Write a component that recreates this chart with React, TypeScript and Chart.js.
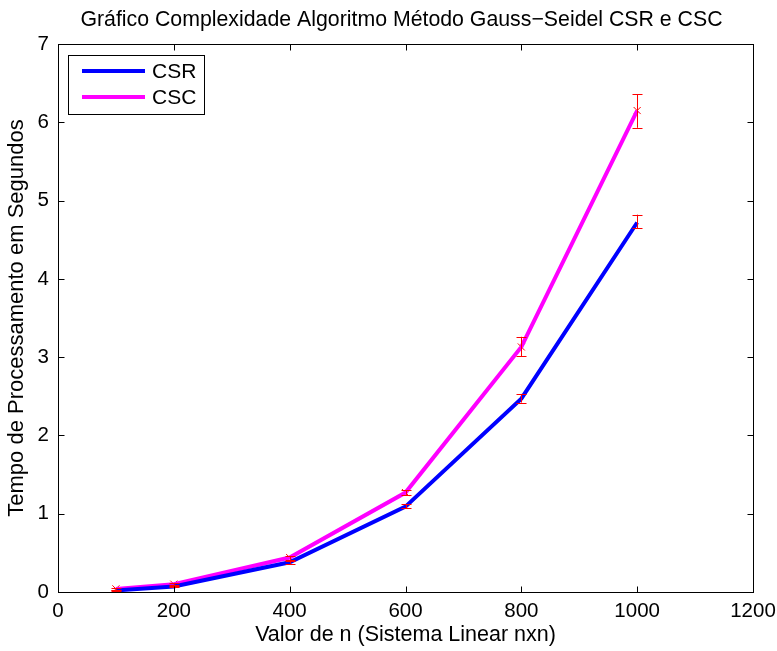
import React, { useEffect, useRef } from "react";
import { Chart, registerables } from "chart.js";

Chart.register(...registerables);

const nValues = [100, 200, 400, 600, 800, 1000];
const csrTimes = [0.02, 0.07, 0.38, 1.09, 2.47, 4.72];
const cscTimes = [0.04, 0.1, 0.44, 1.27, 3.13, 6.15];
const csrLow = [0.01, 0.06, 0.36, 1.07, 2.42, 4.65];
const csrHigh = [0.03, 0.08, 0.4, 1.12, 2.53, 4.82];
const cscLow = [0.03, 0.09, 0.41, 1.24, 3.01, 5.93];
const cscHigh = [0.05, 0.11, 0.46, 1.3, 3.26, 6.36];
const xTicks = [0, 200, 400, 600, 800, 1000, 1200];
const yTicks = [0, 1, 2, 3, 4, 5, 6, 7];

const TITLE = "Gráfico Complexidade Algoritmo Método Gauss\u2212Seidel CSR e CSC";
const FONT = "'Liberation Sans', Arial, Helvetica, sans-serif";

const boxPlugin = {
  id: "matlabBox",
  afterDatasetsDraw(chart: any) {
    const ctx = chart.ctx;
    const xs = chart.scales.x;
    const ys = chart.scales.y;
    ctx.save();
    ctx.strokeStyle = "#ff0000";
    ctx.lineWidth = 1;
    const cap = 5;
    const bars = [
      { lo: csrLow, hi: csrHigh },
      { lo: cscLow, hi: cscHigh },
    ];
    bars.forEach((b) => {
      nValues.forEach((n, i) => {
        const px = Math.round(xs.getPixelForValue(n)) + 0.5;
        const y1 = ys.getPixelForValue(b.lo[i]);
        const y2 = ys.getPixelForValue(b.hi[i]);
        ctx.beginPath();
        ctx.moveTo(px, y1);
        ctx.lineTo(px, y2);
        ctx.moveTo(px - cap, Math.round(y1) + 0.5);
        ctx.lineTo(px + cap, Math.round(y1) + 0.5);
        ctx.moveTo(px - cap, Math.round(y2) + 0.5);
        ctx.lineTo(px + cap, Math.round(y2) + 0.5);
        ctx.stroke();
      });
    });
    ctx.restore();
  },
  afterDraw(chart: any) {
    const ctx = chart.ctx;
    const a = chart.chartArea;
    const xs = chart.scales.x;
    const ys = chart.scales.y;
    ctx.save();
    ctx.strokeStyle = "#000";
    ctx.lineWidth = 1;
    const L = Math.round(a.left) + 0.5;
    const R = Math.round(a.right) + 0.5;
    const T = Math.round(a.top) + 0.5;
    const B = Math.round(a.bottom) + 0.5;
    ctx.strokeRect(L, T, R - L, B - T);
    const tl = 6;
    ctx.beginPath();
    xTicks.forEach((v) => {
      const px = Math.round(xs.getPixelForValue(v)) + 0.5;
      ctx.moveTo(px, B);
      ctx.lineTo(px, B - tl);
      ctx.moveTo(px, T);
      ctx.lineTo(px, T + tl);
    });
    yTicks.forEach((v) => {
      const py = Math.round(ys.getPixelForValue(v)) + 0.5;
      ctx.moveTo(L, py);
      ctx.lineTo(L + tl, py);
      ctx.moveTo(R, py);
      ctx.lineTo(R - tl, py);
    });
    ctx.stroke();

    // title
    ctx.fillStyle = "#000";
    ctx.font = `21.3px ${FONT}`;
    ctx.textAlign = "center";
    ctx.textBaseline = "alphabetic";
    ctx.fillText(TITLE, (a.left + a.right) / 2 - 4, 26);

    // legend
    const lx = 68.5, ly = 55.5, lw = 136, lh = 59;
    ctx.fillStyle = "#fff";
    ctx.fillRect(lx, ly, lw, lh);
    ctx.strokeStyle = "#000";
    ctx.lineWidth = 1;
    ctx.strokeRect(lx, ly, lw, lh);
    const items = chart.data.datasets.filter((d: any) => d.inLegend);
    items.forEach((d: any, i: number) => {
      const y = 71 + i * 26;
      ctx.strokeStyle = d.borderColor;
      ctx.lineWidth = 4;
      ctx.beginPath();
      ctx.moveTo(82, y);
      ctx.lineTo(145, y);
      ctx.stroke();
      ctx.fillStyle = "#000";
      ctx.font = `21px ${FONT}`;
      ctx.textAlign = "left";
      ctx.textBaseline = "middle";
      ctx.fillText(d.label, 152, y + 1);
    });
    ctx.restore();
  },
};

export default function App() {
  const ref = useRef<HTMLCanvasElement>(null);
  useEffect(() => {
    if (!ref.current) return;
    const pts = (ys: number[]) => nValues.map((n, i) => ({ x: n, y: ys[i] }));
    const chart = new Chart(ref.current, {
      type: "line",
      data: {
        datasets: [
          {
            label: "CSR",
            data: pts(csrTimes),
            borderColor: "#0000ff",
            borderWidth: 4,
            pointRadius: 0,
            tension: 0,
            inLegend: true,
          } as any,
          {
            label: "CSC",
            data: pts(cscTimes),
            borderColor: "#ff00ff",
            borderWidth: 4,
            pointRadius: 0,
            tension: 0,
            inLegend: true,
          } as any,
          {
            label: "markers",
            data: pts(cscTimes),
            showLine: false,
            pointStyle: "crossRot",
            pointRadius: 5,
            borderColor: "#ff0000",
            pointBorderColor: "#ff0000",
            borderWidth: 1,
            pointBorderWidth: 1,
          } as any,
        ],
      },
      options: {
        responsive: false,
        animation: false,
        layout: { padding: { left: 0, right: 24, top: 44, bottom: 0 } },
        plugins: {
          legend: { display: false },
          title: { display: false },
          tooltip: { enabled: false },
        },
        scales: {
          x: {
            type: "linear",
            min: 0,
            max: 1200,
            afterBuildTicks: (s: any) => {
              s.ticks = xTicks.map((v) => ({ value: v }));
            },
            afterFit: (s: any) => {
              s.height = 59;
              s.paddingLeft = 0;
              s.paddingRight = 0;
            },
            ticks: {
              color: "#000",
              font: { size: 20.5, family: FONT },
              padding: 7,
              maxRotation: 0,
              autoSkip: false,
              callback: (v: any) => String(v),
            },
            grid: { display: false, drawTicks: false },
            border: { display: false },
            title: {
              display: true,
              text: "Valor de n (Sistema Linear nxn)",
              color: "#000",
              font: { size: 21.5, family: FONT },
              padding: { top: 0, bottom: 3 },
            },
          },
          y: {
            type: "linear",
            min: 0,
            max: 7,
            afterBuildTicks: (s: any) => {
              s.ticks = yTicks.map((v) => ({ value: v }));
            },
            afterFit: (s: any) => {
              s.width = 58;
              s.paddingTop = 0;
              s.paddingBottom = 0;
            },
            ticks: {
              color: "#000",
              font: { size: 20.5, family: FONT },
              padding: 9,
              autoSkip: false,
              callback: (v: any) => String(v),
            },
            grid: { display: false, drawTicks: false },
            border: { display: false },
            title: {
              display: true,
              text: "Tempo de Processamento em Segundos",
              color: "#000",
              font: { size: 22, family: FONT },
              padding: { top: 4, bottom: 0 },
            },
          },
        },
      },
      plugins: [boxPlugin],
    });
    return () => chart.destroy();
  }, []);
  return (
    <div style={{ position: "fixed", left: 0, top: 0, width: 777, height: 651, background: "#fff" }}>
      <canvas ref={ref} width={777} height={651} style={{ display: "block" }} />
    </div>
  );
}
